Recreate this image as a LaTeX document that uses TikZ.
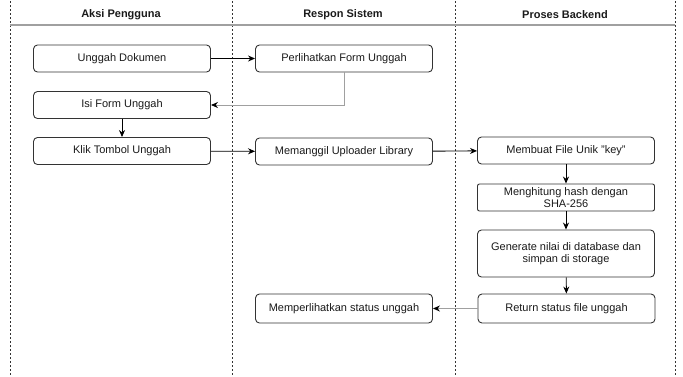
\documentclass[tikz,border=0pt]{standalone}
\usepackage{fontspec}
\setmainfont{Liberation Sans}
\usetikzlibrary{arrows.meta}
\definecolor{boxline}{HTML}{333333}
\definecolor{txt}{HTML}{1A1A1A}
\definecolor{softline}{HTML}{A0A0A0}
\tikzset{
  procbox/.style={draw=boxline, line width=0.9pt, rounded corners=4pt, fill=white,
    minimum width=177pt, minimum height=27pt, inner sep=1pt, align=center,
    text=txt, font=\fontsize{11}{12.5}\selectfont},
  lane/.style={draw=boxline, line width=0.8pt, dash pattern=on 2pt off 2pt},
  head/.style={font=\bfseries\fontsize{11}{13}\selectfont, text=txt},
  flow/.style={draw=black, line width=0.9pt, -{Stealth[length=7pt,width=6pt]}},
  softflow/.style={draw=softline, line width=1pt, -{Stealth[length=7pt,width=6pt,color=black]}}
}
\begin{document}
\begin{tikzpicture}[x=1pt,y=-1pt]
\useasboundingbox (0,0) rectangle (683,376);
% lanes
\coordinate (l1t) at (10,1); \coordinate (l1b) at (10,376);
\coordinate (l2t) at (232,1); \coordinate (l2b) at (232,376);
\coordinate (l3t) at (455,1); \coordinate (l3b) at (455,376);
\coordinate (l4t) at (675,1); \coordinate (l4b) at (675,376);
\draw[lane] (l1t) -- (l1b);
\draw[lane] (l2t) -- (l2b);
\draw[lane] (l3t) -- (l3b);
\draw[lane] (l4t) -- (l4b);
\coordinate (hl) at (10,25); \coordinate (hr) at (675,25);
\draw[draw=softline, line width=1.2pt] (hl) -- (hr);
\node[head] (h1) at (121,15) {Aksi Pengguna};
\node[head] (h2) at (343,15) {Respon Sistem};
\node[head] (h3) at (565,15) {Proses Backend};
% boxes
\node[procbox] (ud) at (122,58.5) {Unggah Dokumen};
\node[procbox] (ifu) at (122,105) {Isi Form Unggah};
\node[procbox] (ktu) at (122,151) {Klik Tombol Unggah};
\node[procbox] (pfu) at (344,58.5) {Perlihatkan Form Unggah};
\node[procbox] (mul) at (344,151.5) {Memanggil Uploader Library};
\node[procbox] (mfu) at (566,150.5) {Membuat File Unik "key"};
\node[procbox, rounded corners=2pt] (mh) at (566,197.5) {Menghitung hash dengan\\SHA-256};
\node[procbox, minimum height=47pt] (gn) at (566,253.5) {Generate nilai di database dan\\simpan di storage};
\node[procbox, minimum height=29pt] (rs) at (566.5,308.5) {Return status file unggah};
\node[procbox, minimum height=29pt] (ms) at (344,308.5) {Memperlihatkan status unggah};
% connectors
\draw[flow] (ud) -- (pfu);
\draw[softflow] (pfu.south) |- (ifu.east);
\draw[flow] (ifu) -- (ktu);
\draw[flow] (ktu) -- (mul);
\draw[flow] (mul) -- (mfu);
\draw[flow] (mfu) -- (mh);
\draw[flow] (mh) -- (gn);
\draw[flow] (gn) -- (rs);
\draw[softflow] (rs) -- (ms);
\end{tikzpicture}
\end{document}
